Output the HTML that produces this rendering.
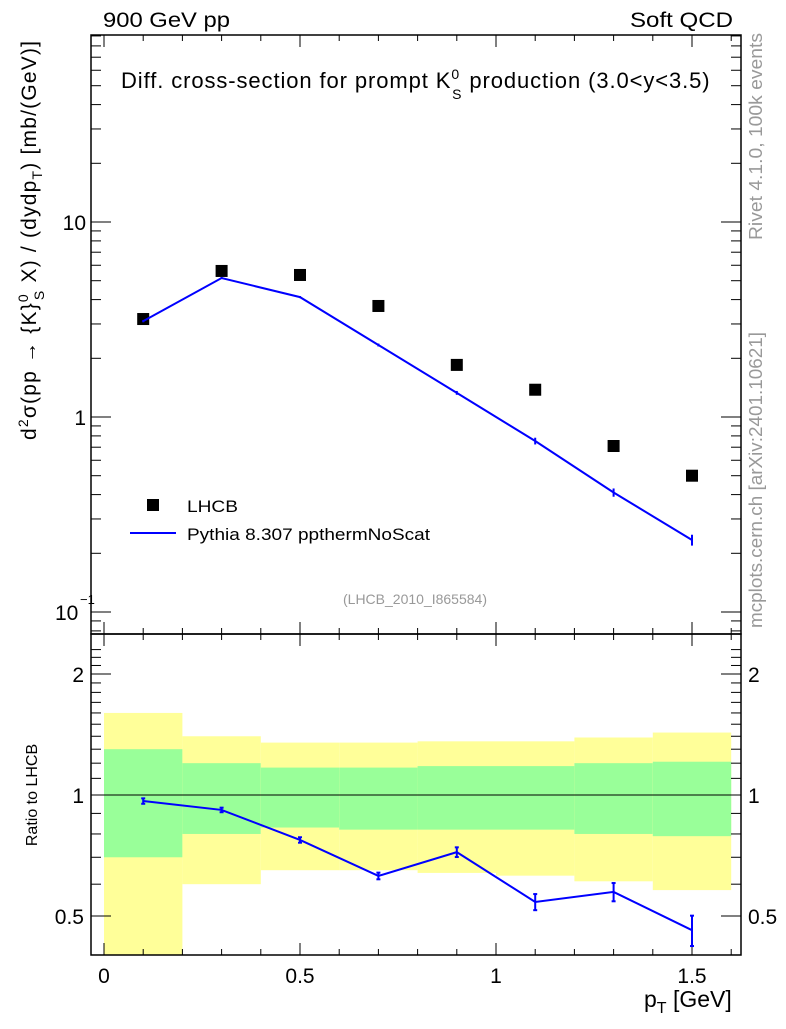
<!DOCTYPE html>
<html><head><meta charset="utf-8"><style>
body{margin:0;background:#fff;}
svg text{font-family:"Liberation Sans",sans-serif;}
</style></head><body>
<svg id="c" width="786" height="1024" xmlns="http://www.w3.org/2000/svg"></svg>
<script>
const xs=[0.1,0.3,0.5,0.7,0.9,1.1,1.3,1.5];
const lhcb=[3.18,5.61,5.35,3.71,1.85,1.38,0.71,0.50];
const mc=[3.10,5.16,4.12,2.34,1.33,0.753,0.41,0.234];
const mcErr=[0.04,0.06,0.05,0.04,0.03,0.03,0.02,0.015];
const ratio=[0.966,0.918,0.773,0.629,0.721,0.542,0.574,0.461];
const ratioErr=[0.015,0.012,0.012,0.012,0.02,0.025,0.03,0.04];
const binEdges=[0,0.2,0.4,0.6,0.8,1.0,1.2,1.4,1.6];
const greenHi=[1.30,1.20,1.17,1.17,1.18,1.18,1.20,1.21];
const greenLo=[0.70,0.80,0.83,0.82,0.82,0.82,0.80,0.79];
const yelHi=[1.60,1.40,1.35,1.35,1.36,1.36,1.39,1.43];
const yelLo=[0.30,0.60,0.65,0.65,0.64,0.63,0.61,0.58];
const xTicks=[0,0.5,1,1.5];
const xTickLabels=["0","0.5","1","1.5"];

const L=91,R=741,T1=35,B1=634,T2=634,B2=955;
const X=v=>104+v*392;
const Y1=v=>417-Math.log10(v)*195;
const Y2=v=>795-Math.log10(v)*402;
const svg=document.getElementById('c');
const NS='http://www.w3.org/2000/svg';
function el(tag,attrs,name,txt){const e=document.createElementNS(NS,tag);for(const k in attrs)e.setAttribute(k,attrs[k]);


if(txt!==undefined)e.textContent=txt;svg.appendChild(e);return e;}
function line(x1,y1,x2,y2,name,w,c){return el('line',{x1,y1,x2,y2,stroke:c||'#000','stroke-width':w||1},name);}
function text(x,y,s,size,name,anchor,fill){return el('text',{x,y,'font-size':size,'text-anchor':anchor||'start',fill:fill||'#000'},name,s);}
function fit(e,len){e.setAttribute('textLength',len);e.setAttribute('lengthAdjust','spacingAndGlyphs');return e;}

// bands
for(let i=0;i<8;i++){
 const x0=X(binEdges[i]),x1=X(binEdges[i+1]);
 const yt=Y2(yelHi[i]),yb=Math.min(Y2(yelLo[i]),B2);
 el('rect',{x:x0,y:yt,width:x1-x0,height:yb-yt,fill:'#ffff99'},'yellow-band');
 const gt=Y2(greenHi[i]),gb=Y2(greenLo[i]);
 el('rect',{x:x0,y:gt,width:x1-x0,height:gb-gt,fill:'#99ff99'},'green-band');
}
line(L,Y2(1),R,Y2(1),'ratio-unity-line',1);

// frames
el('rect',{x:L,y:T1,width:R-L,height:B1-T1,fill:'none',stroke:'#000','stroke-width':1.5},'main-frame');
el('rect',{x:L,y:T2,width:R-L,height:B2-T2,fill:'none',stroke:'#000','stroke-width':1.5},'ratio-frame');

// x ticks
for(let k=0;k<=16;k++){const v=k*0.1;const x=X(v);const maj=k%5==0;const h=maj?12:6;
 line(x,B1,x,B1-h,'x-tick');line(x,T1,x,T1+h,'x-tick');line(x,B2,x,B2-h,'x-tick');line(x,T2,x,T2+h,'x-tick');}
xTicks.forEach((v,i)=>text(X(v),983,xTickLabels[i],21,'x-tick-label','middle'));
// y ticks main
for(let d=-2;d<=1;d++){for(let m=1;m<10;m++){const v=m*Math.pow(10,d);const y=Y1(v);if(y<T1||y>B1)continue;const h=m==1?20:10;
 line(L,y,L+h,y,'y-tick');line(R,y,R-h,y,'y-tick');}}
text(86,230,'10',21,'y-tick-label','end');text(86,425,'1',21,'y-tick-label','end');
el('text',{x:55,y:620,'font-size':21},'y-tick-label','10');el('text',{x:80,y:604,'font-size':13},'y-tick-exp','−1');
// ratio ticks
for(let k=3;k<=23;k++){const v=k/10;const y=Y2(v);if(y<T2||y>B2)continue;const maj=(k==5||k==10||k==20);const h=maj?20:10;
 line(L,y,L+h,y,'ratio-tick');line(R,y,R-h,y,'ratio-tick');}
[[2,'2'],[1,'1'],[0.5,'0.5']].forEach(([v,s])=>{text(84,Y2(v)+8,s,21,'ratio-tick-label','end');text(748,Y2(v)+8,s,21,'ratio-tick-label','start');});

// LHCB markers
xs.forEach((v,i)=>el('rect',{x:X(v)-6,y:Y1(lhcb[i])-6,width:12,height:12,fill:'#000'},'lhcb-point'));
// MC line
el('polyline',{points:xs.map((v,i)=>X(v)+','+Y1(mc[i])).join(' '),fill:'none',stroke:'#0000ff','stroke-width':2},'pythia-line');
xs.forEach((v,i)=>{line(X(v),Y1(mc[i]+mcErr[i]),X(v),Y1(mc[i]-mcErr[i]),'pythia-errbar',2,'#0000ff');});
el('polyline',{points:xs.map((v,i)=>X(v)+','+Y2(ratio[i])).join(' '),fill:'none',stroke:'#0000ff','stroke-width':2},'ratio-line');
xs.forEach((v,i)=>{const x=X(v),a=Y2(ratio[i]+ratioErr[i]),b=Y2(ratio[i]-ratioErr[i]);
 line(x,a,x,b,'ratio-errbar',2,'#0000ff');line(x-2,a,x+2,a,'ratio-errcap',2,'#0000ff');line(x-2,b,x+2,b,'ratio-errcap',2,'#0000ff');});

// titles
fit(text(103,27,'900 GeV pp',21,'header-left'),127);
fit(text(630,27,'Soft QCD',21,'header-right'),103);
const t=el('text',{x:121,y:88,'font-size':22,'letter-spacing':'0.9'},'plot-title');
t.innerHTML='Diff. cross-section for prompt K<tspan dy="-9" font-size="14">0</tspan><tspan dx="-8" dy="20" font-size="14">S</tspan><tspan dy="-11"> production (3.0&lt;y&lt;3.5)</tspan>';
text(415,604,'(LHCB_2010_I865584)',14,'analysis-id','middle','#999');
el('rect',{x:147,y:499,width:12,height:12,fill:'#000'},'legend-marker-lhcb');
fit(text(187,512,'LHCB',17,'legend-label-lhcb'),51);
line(130,533,176,533,'legend-line-pythia',2,'#0000ff');
fit(text(187,540,'Pythia 8.307 ppthermNoScat',17,'legend-label-pythia'),243);
const yt=el('text',{transform:'translate(36,440) rotate(-90)','font-size':21,'letter-spacing':'1.2'},'y-axis-title');
yt.innerHTML='d<tspan dy="-8" font-size="14">2</tspan><tspan dy="8">σ(pp → {K}</tspan><tspan dy="-8" font-size="14">0</tspan><tspan dx="-7" dy="16" font-size="14">S</tspan><tspan dy="-8"> X) / (dydp</tspan><tspan dy="6" font-size="14">T</tspan><tspan dy="-6">) [mb/(GeV)]</tspan>';
text(0,0,'Ratio to LHCB',16,'ratio-axis-title','middle').setAttribute('transform','translate(37,795) rotate(-90)');
const xt=el('text',{x:644,y:1007,'font-size':23},'x-axis-title');
xt.innerHTML='p<tspan dy="6" font-size="16">T</tspan><tspan dy="-6"> [GeV]</tspan>';
const rv=fit(text(0,0,'Rivet 4.1.0,  100k events',18,'rivet-label','end','#999'),207);rv.setAttribute('transform','translate(762,33) rotate(-90)');
const mp=fit(text(0,0,'mcplots.cern.ch [arXiv:2401.10621]',18,'mcplots-label','end','#999'),296);mp.setAttribute('transform','translate(762,332) rotate(-90)');
</script>
</body></html>
